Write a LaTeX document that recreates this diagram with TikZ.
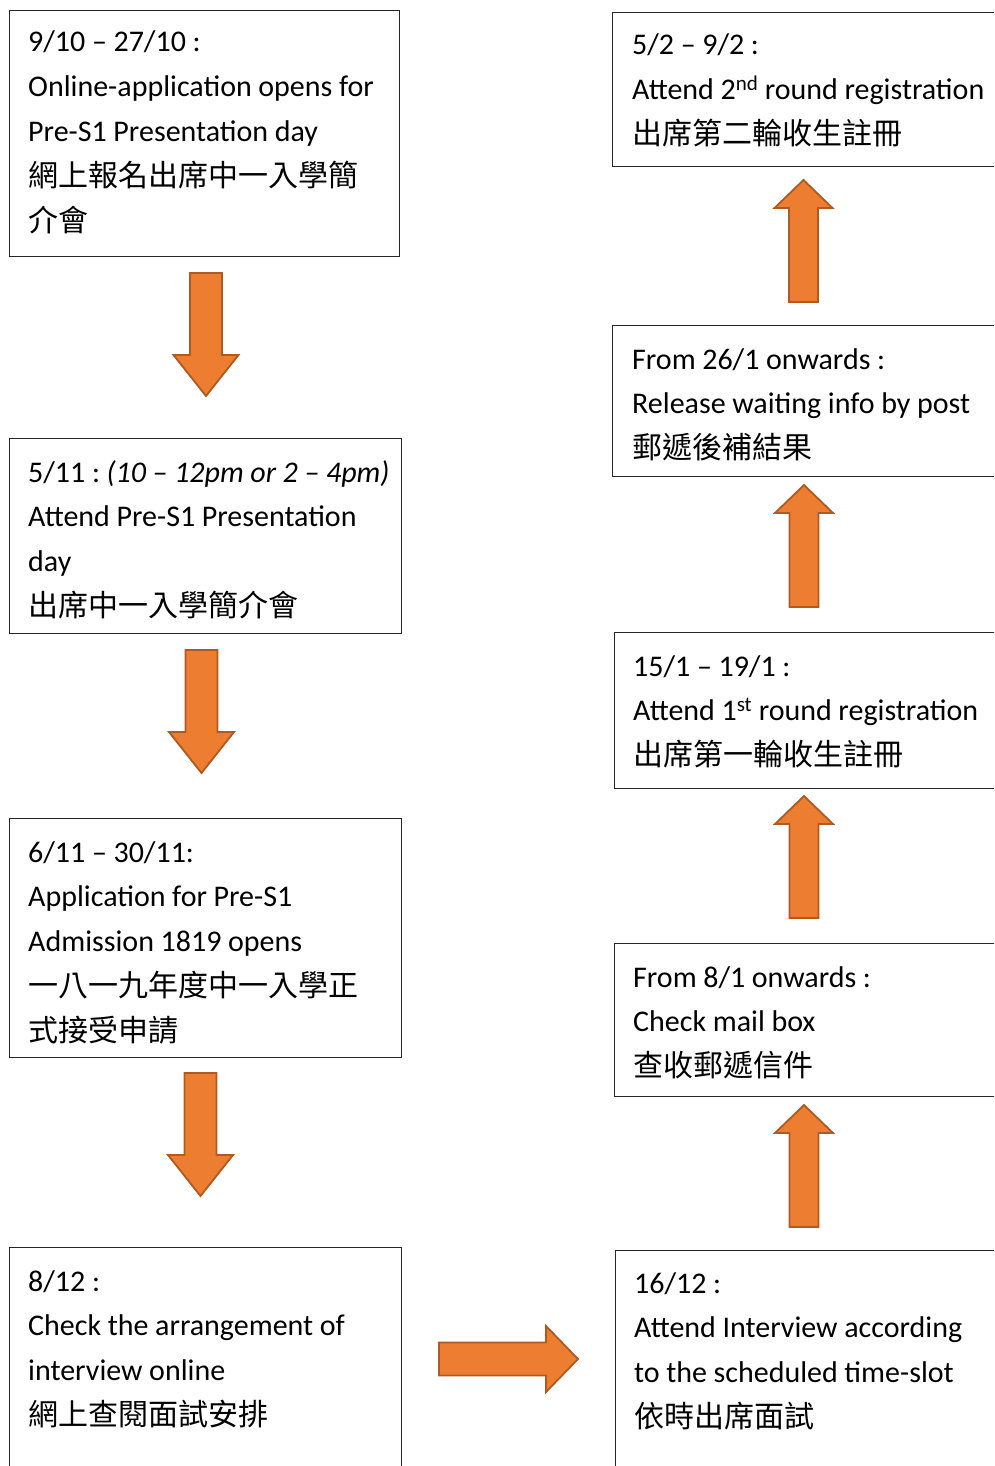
\documentclass[tikz,border=0pt]{standalone}
\usepackage{fontspec}
\setmainfont{Carlito}
\newfontfamily\cjk{Noto Sans CJK TC}
\usetikzlibrary{calc}
\definecolor{arrfill}{HTML}{ED7D31}
\definecolor{arrline}{HTML}{AE5A21}
\frenchspacing
\begin{document}
\begin{tikzpicture}[x=1pt,y=-1pt,
  stepbox/.style={draw=black!85,line width=1.3pt,rectangle,inner sep=0pt,anchor=north west},
  txt/.style={anchor=base west,inner sep=0pt,text width=420pt,align=left,
              font=\fontsize{30}{44.8}\selectfont,
              execute at begin node={\frenchspacing\spaceskip=6.6pt plus 1.5pt\relax}},
  blk/.style={fill=arrfill,draw=arrline,line width=1.8pt,line join=miter},
  pics/downarrow/.style={code={\filldraw[blk] (-16,0) -- (16,0) -- (16,82) -- (32.5,82) -- (0,123) -- (-32.5,82) -- (-16,82) -- cycle;}},
  pics/uparrow/.style={code={\filldraw[blk] (-14.5,0) -- (14.5,0) -- (14.5,-94) -- (29,-94) -- (0,-122) -- (-29,-94) -- (-14.5,-94) -- cycle;}},
  pics/rightarrow/.style={code={\filldraw[blk] (0,-16.5) -- (107,-16.5) -- (107,-33) -- (139,0) -- (107,33) -- (107,16.5) -- (0,16.5) -- cycle;}}
]
\useasboundingbox (0,0) rectangle (994,1466);
\clip (0,0) rectangle (994,1466);

% left column boxes
\node[stepbox,minimum width=390pt,minimum height=246pt] (b1) at (9,10) {};
\node[stepbox,minimum width=392pt,minimum height=195pt] (b2) at (9,438) {};
\node[stepbox,minimum width=392pt,minimum height=239pt] (b3) at (9,818) {};
\node[stepbox,minimum width=392pt,minimum height=260pt] (b4) at (9,1247) {};
% right column boxes
\node[stepbox,minimum width=400pt,minimum height=260pt] (b5) at (615,1250) {};
\node[stepbox,minimum width=400pt,minimum height=153pt] (b6) at (614,943) {};
\node[stepbox,minimum width=400pt,minimum height=156pt] (b7) at (614,632) {};
\node[stepbox,minimum width=400pt,minimum height=151pt] (b8) at (612,325) {};
\node[stepbox,minimum width=400pt,minimum height=154pt] (b9) at (612,12) {};

% texts
\node[txt] (t1) at ($(b1.north west)+(19,42)$) {9/10 – 27/10 :\\Online-application opens for\\Pre-S1 Presentation day\\{\cjk 網上報名出席中一入學簡}\\{\cjk 介會}};
\node[txt] (t2) at ($(b2.north west)+(19,44)$) {5/11 : \textit{(10 – 12pm or 2 – 4pm)}\\Attend Pre-S1 Presentation\\day\\{\cjk 出席中一入學簡介會}};
\node[txt] (t3) at ($(b3.north west)+(19,44)$) {6/11 – 30/11:\\Application for Pre-S1\\Admission 1819 opens\\{\cjk 一八一九年度中一入學正}\\{\cjk 式接受申請}};
\node[txt] (t4) at ($(b4.north west)+(19,44)$) {8/12 :\\Check the arrangement of\\interview online\\{\cjk 網上查閱面試安排}};
\node[txt] (t5) at ($(b5.north west)+(19,43)$) {16/12 :\\Attend Interview according\\to the scheduled time-slot\\{\cjk 依時出席面試}};
\node[txt] (t6) at ($(b6.north west)+(19,44)$) {From 8/1 onwards :\\Check mail box\\{\cjk 查收郵遞信件}};
\node[txt] (t7) at ($(b7.north west)+(19,44)$) {15/1 – 19/1 :\\Attend 1\textsuperscript{st} round registration\\{\cjk 出席第一輪收生註冊}};
\node[txt] (t8) at ($(b8.north west)+(20,44)$) {From 26/1 onwards :\\Release waiting info by post\\{\cjk 郵遞後補結果}};
\node[txt] (t9) at ($(b9.north west)+(20,43)$) {5/2 – 9/2 :\\Attend 2\textsuperscript{nd} round registration\\{\cjk 出席第二輪收生註冊}};

% block arrows
\pic at (206,273) {downarrow};
\pic at (201.5,650) {downarrow};
\pic at (200.5,1073) {downarrow};
\pic at (439,1359) {rightarrow};
\pic at (804,1227) {uparrow};
\pic at (804,918) {uparrow};
\pic at (804,607) {uparrow};
\pic at (803.5,302) {uparrow};
\end{tikzpicture}
\end{document}
